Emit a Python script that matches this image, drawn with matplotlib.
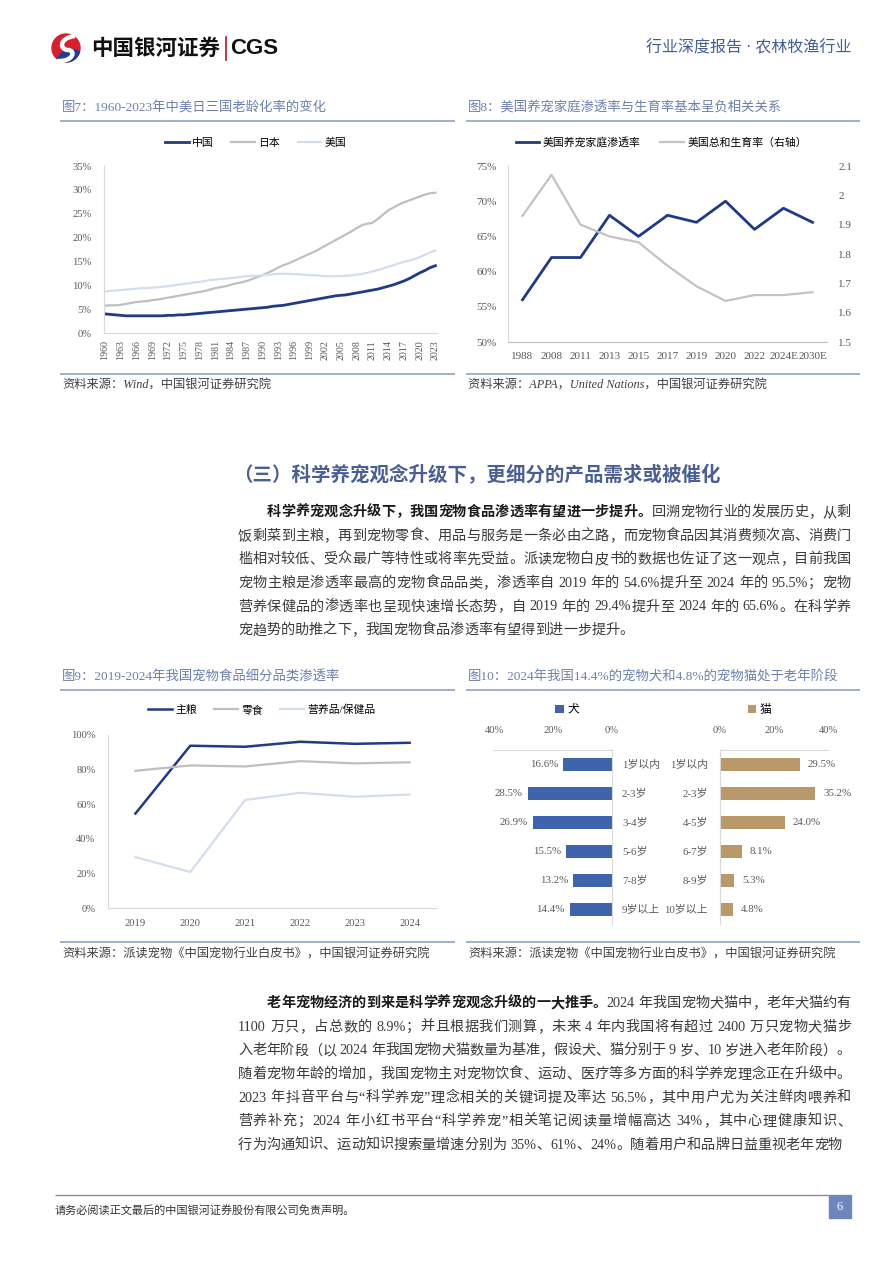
import matplotlib.pyplot as plt
import matplotlib.patches as mpatches
from matplotlib.path import Path
from matplotlib.font_manager import FontProperties
from matplotlib.ticker import FuncFormatter

W, H = 892, 1262
FONTS = ['Liberation Serif', 'Noto Sans CJK SC', 'DejaVu Sans']
plt.rcParams['font.family'] = FONTS
plt.rcParams['axes.unicode_minus'] = False

NAVY = '#1f3a86'
GREY = '#bfbfbf'
PALE = '#d4ddef'
TICK = '#595959'
TITLE = '#6c80b0'
RULE = '#8fa2c6'
DOG = '#3f63ad'
CAT = '#b9986a'

# ---- 图7 数据：65岁以上人口占比(%) ----
years7 = list(range(1960, 2024))
china7 = [4.0, 3.9, 3.8, 3.7, 3.6, 3.6, 3.6, 3.6, 3.6, 3.6,
          3.6, 3.6, 3.7, 3.7, 3.8, 3.8, 3.9, 4.0, 4.1, 4.2,
          4.3, 4.4, 4.5, 4.6, 4.7, 4.8, 4.9, 5.0, 5.1, 5.2,
          5.3, 5.4, 5.6, 5.7, 5.8, 6.0, 6.2, 6.4, 6.6, 6.8,
          7.0, 7.2, 7.4, 7.6, 7.8, 7.9, 8.0, 8.2, 8.4, 8.6,
          8.8, 9.0, 9.2, 9.5, 9.8, 10.1, 10.5, 10.9, 11.4, 12.0,
          12.6, 13.1, 13.7, 14.1]
japan7 = [5.7, 5.8, 5.8, 5.9, 6.1, 6.3, 6.5, 6.6, 6.7, 6.9,
          7.0, 7.2, 7.4, 7.6, 7.8, 8.0, 8.2, 8.4, 8.6, 8.8,
          9.1, 9.4, 9.6, 9.8, 10.1, 10.4, 10.6, 10.9, 11.3, 11.7,
          12.1, 12.6, 13.1, 13.7, 14.2, 14.6, 15.1, 15.6, 16.1, 16.6,
          17.1, 17.7, 18.3, 18.9, 19.5, 20.1, 20.7, 21.3, 22.0, 22.6,
          22.9, 23.1, 23.9, 24.8, 25.7, 26.3, 26.9, 27.4, 27.8, 28.2,
          28.6, 29.0, 29.3, 29.4]
usa7 = [8.7, 8.8, 8.9, 9.0, 9.1, 9.2, 9.3, 9.4, 9.4, 9.5,
        9.6, 9.7, 9.8, 10.0, 10.1, 10.3, 10.4, 10.6, 10.7, 10.9,
        11.1, 11.2, 11.3, 11.4, 11.5, 11.6, 11.8, 11.9, 12.0, 12.0,
        12.1, 12.2, 12.3, 12.4, 12.4, 12.4, 12.3, 12.3, 12.2, 12.1,
        12.1, 12.0, 11.9, 11.9, 11.9, 11.9, 12.0, 12.1, 12.2, 12.4,
        12.6, 12.9, 13.2, 13.5, 13.9, 14.2, 14.6, 14.9, 15.2, 15.5,
        15.9, 16.4, 16.9, 17.3]

# ---- 图8 数据 ----
cats8 = ['1988', '2008', '2011', '2013', '2015', '2017', '2019', '2020',
         '2022', '2024E', '2030E']
pet_rate = [56, 62, 62, 68, 65, 68, 67, 70, 66, 69, 67]
fertility = [1.93, 2.07, 1.90, 1.86, 1.84, 1.76, 1.69, 1.64, 1.66, 1.66, 1.67]

# ---- 图9 数据 ----
years9 = ['2019', '2020', '2021', '2022', '2023', '2024']
staple = [54.6, 93.8, 93.2, 96.1, 94.9, 95.5]
snack = [79.3, 82.4, 81.8, 84.9, 83.6, 84.2]
supplement = [29.4, 20.8, 62.4, 66.6, 64.3, 65.6]

# ---- 图10 数据 ----
dog_ages = ['1岁以内', '2-3岁', '3-4岁', '5-6岁', '7-8岁', '9岁以上']
dog_share = [16.6, 28.5, 26.9, 15.5, 13.2, 14.4]
cat_ages = ['1岁以内', '2-3岁', '4-5岁', '6-7岁', '8-9岁', '10岁以上']
cat_share = [29.5, 35.2, 24.0, 8.1, 5.3, 4.8]

para1 = [
    [('科学养宠观念升级下，我国宠物食品渗透率有望进一步提升。', True), ('回溯宠物行业的发展历史，从剩', False)],
    [('饭剩菜到主粮，再到宠物零食、用品与服务是一条必由之路，而宠物食品因其消费频次高、消费门', False)],
    [('槛相对较低、受众最广等特性或将率先受益。派读宠物白皮书的数据也佐证了这一观点，目前我国', False)],
    [('宠物主粮是渗透率最高的宠物食品品类，渗透率自 2019 年的 54.6%提升至 2024 年的 95.5%；宠物', False)],
    [('营养保健品的渗透率也呈现快速增长态势，自 2019 年的 29.4%提升至 2024 年的 65.6%。在科学养', False)],
    [('宠趋势的助推之下，我国宠物食品渗透率有望得到进一步提升。', False)],
]
para2 = [
    [('老年宠物经济的到来是科学养宠观念升级的一大推手。', True), ('2024 年我国宠物犬猫中，老年犬猫约有', False)],
    [('1100 万只，占总数的 8.9%；并且根据我们测算，未来 4 年内我国将有超过 2400 万只宠物犬猫步', False)],
    [('入老年阶段（以 2024 年我国宠物犬猫数量为基准，假设犬、猫分别于 9 岁、10 岁进入老年阶段）。', False)],
    [('随着宠物年龄的增加，我国宠物主对宠物饮食、运动、医疗等多方面的科学养宠理念正在升级中。', False)],
    [('2023 年抖音平台与“科学养宠”理念相关的关键词提及率达 56.5%，其中用户尤为关注鲜肉喂养和', False)],
    [('营养补充；2024 年小红书平台“科学养宠”相关笔记阅读量增幅高达 34%，其中心理健康知识、', False)],
    [('行为沟通知识、运动知识搜索量增速分别为 35%、61%、24%。随着用户和品牌日益重视老年宠物', False)],
]

fig = plt.figure(figsize=(W / 100, H / 100), dpi=100)
bg = fig.add_axes([0, 0, 1, 1])
bg.set_xlim(0, W)
bg.set_ylim(H, 0)
bg.axis('off')
renderer = fig.canvas.get_renderer()


def box(x0, y0, x1, y1):
    return fig.add_axes([x0 / W, 1 - y1 / H, (x1 - x0) / W, (y1 - y0) / H])


def put(x, y, s, **kw):
    kw.setdefault('va', 'center')
    return bg.text(x, y, s, **kw)


def rule(x0, x1, y, color=RULE, lw=1.2):
    bg.plot([x0, x1], [y, y], color=color, lw=lw, solid_capstyle='butt')


def frame(x0, x1, y_title, title, y_src, src):
    put(x0 + 2, y_title, title, color=TITLE, fontsize=9.6)
    rule(x0, x1, y_title + 13)
    rule(x0, x1, y_src - 12)
    put(x0 + 2, y_src, src, color='#404040', fontsize=8.8, style='italic')


def clean(ax, spines=('left', 'bottom'), color='#d9d9d9'):
    for k, s in ax.spines.items():
        s.set_visible(k in spines)
        s.set_color(color)
    ax.set_facecolor('none')
    ax.tick_params(length=0, colors=TICK, labelsize=7.6)


pct = FuncFormatter(lambda v, _: f'{v:.0f}%')
leg_kw = dict(frameon=False, fontsize=7.8, handlelength=2.2, handletextpad=0.3)

# ---- 页眉 ----
bg.add_patch(mpatches.Circle((66, 48), 14, color='#d7202b'))
bg.add_patch(mpatches.Wedge((66, 48), 14, 15, 130, color='#1d3f94'))
s_curve = Path([(75, 36), (58, 38), (60, 50), (68, 50), (76, 50), (74, 62), (57, 61)],
               [Path.MOVETO, Path.CURVE4, Path.CURVE4, Path.CURVE4, Path.CURVE4, Path.CURVE4, Path.CURVE4])
bg.add_patch(mpatches.PathPatch(s_curve, fill=False, edgecolor='white', lw=3.2))
put(91, 48, '中国银河证券', fontsize=15.5, weight='bold', color='#111111',
    family=['Noto Sans CJK SC'])
bg.plot([226, 226], [37, 60], color='#c0141c', lw=1.2)
put(230, 48, 'CGS', fontsize=16, weight='bold', color='#111111', family=['Liberation Sans'])
put(851, 48, '行业深度报告 · 农林牧渔行业', ha='right', fontsize=11.5, color='#3f5f9a')

# ---- 图7 ----
frame(60, 455, 108, '图7：1960-2023年中美日三国老龄化率的变化', 386, '资料来源：Wind，中国银河证券研究院')
ax7 = box(104, 166, 437, 333)
ax7.plot(years7, china7, color=NAVY, lw=2, label='中国')
ax7.plot(years7, japan7, color=GREY, lw=1.6, label='日本')
ax7.plot(years7, usa7, color=PALE, lw=1.6, label='美国')
ax7.set_xlim(1959.8, 2023.3)
ax7.set_ylim(0, 35)
ax7.set_yticks(range(0, 36, 5))
ax7.yaxis.set_major_formatter(pct)
ax7.set_xticks(years7[::3])
clean(ax7)
ax7.tick_params(axis='x', labelrotation=90, labelsize=7.2, pad=5)
ax7.tick_params(axis='y', pad=9)
ax7.legend(loc='center', bbox_to_anchor=(0.456, 1.14), ncol=3, columnspacing=1.6, **leg_kw)

# ---- 图8 ----
frame(466, 860, 108, '图8：美国养宠家庭渗透率与生育率基本呈负相关关系', 386,
      '资料来源：APPA，United Nations，中国银河证券研究院')
ax8 = box(508, 166, 827, 342)
x8 = list(range(len(cats8)))
l1, = ax8.plot(x8, pet_rate, color=NAVY, lw=2, label='美国养宠家庭渗透率')
ax8b = ax8.twinx()
l2, = ax8b.plot(x8, fertility, color='#c3c3c3', lw=1.6, label='美国总和生育率（右轴）')
ax8.set_xlim(-0.5, 10.5)
ax8.set_ylim(50, 75)
ax8.set_yticks(range(50, 76, 5))
ax8.yaxis.set_major_formatter(pct)
ax8b.set_ylim(1.5, 2.1)
ax8b.set_yticks([1.5, 1.6, 1.7, 1.8, 1.9, 2.0, 2.1])
ax8b.yaxis.set_major_formatter(FuncFormatter(lambda v, _: f'{round(v, 1):g}'))
ax8.set_xticks(x8, cats8)
clean(ax8)
ax8.spines['bottom'].set_color('#bfbfbf')
clean(ax8b, spines=())
ax8.tick_params(axis='x', labelsize=8, pad=7)
ax8.tick_params(axis='y', labelsize=8, pad=8)
ax8b.tick_params(axis='y', labelsize=8, pad=8)
ax8.legend(handles=[l1, l2], loc='center', bbox_to_anchor=(0.48, 1.135), ncol=2,
           columnspacing=1.8, **leg_kw)

# ---- 正文 ----
put(233, 475, '（三）科学养宠观念升级下，更细分的产品需求或被催化', fontsize=14, weight='bold',
    color='#4a5f94')


def text_line(x0, x1, y, parts, justify=True, size=10.2):
    items = []
    em = size * 100 / 72
    for s, bold in parts:
        prop = FontProperties(family=FONTS, size=size, weight='bold' if bold else 'normal')
        buf = ''
        toks = []
        for ch in s:
            if ch.isascii() and ch != ' ':
                buf += ch
            else:
                if buf:
                    toks.append(buf)
                    buf = ''
                toks.append(ch)
        if buf:
            toks.append(buf)
        for tk in toks:
            if tk == ' ':
                w = 0.25 * em
            else:
                w = renderer.get_text_width_height_descent(tk, prop, ismath=False)[0]
            items.append((tk, prop, w, bold))
    total = sum(it[2] for it in items)
    gap = (x1 - x0 - total) / (len(items) - 1) if justify else 0
    x = x0
    for tk, prop, w, bold in items:
        if tk != ' ':
            bg.text(x, y + 0.36 * em, tk, fontproperties=prop, va='baseline', ha='left',
                    color='#1a1a1a' if bold else '#3a3a3a')
        x += w + gap


def paragraph(lines, y0, step=23.6):
    for i, parts in enumerate(lines):
        x0 = 267 if i == 0 else 238
        text_line(x0, 851, y0 + i * step, parts, justify=i < len(lines) - 1)


paragraph(para1, 511)
paragraph(para2, 1002)

# ---- 图9 ----
frame(60, 455, 677, '图9：2019-2024年我国宠物食品细分品类渗透率', 954,
      '资料来源：派读宠物《中国宠物行业白皮书》，中国银河证券研究院')
ax9 = box(108, 735, 437, 908)
x9 = list(range(len(years9)))
ax9.plot(x9, staple, color=NAVY, lw=1.8, label='主粮')
ax9.plot(x9, snack, color=GREY, lw=1.6, label='零食')
ax9.plot(x9, supplement, color=PALE, lw=1.6, label='营养品/保健品')
ax9.set_xlim(-0.5, 5.5)
ax9.set_ylim(0, 100)
ax9.set_yticks(range(0, 101, 20))
ax9.yaxis.set_major_formatter(pct)
ax9.set_xticks(x9, years9)
clean(ax9)
ax9.tick_params(axis='x', pad=8)
ax9.tick_params(axis='y', pad=9)
ax9.legend(loc='center', bbox_to_anchor=(0.468, 1.145), ncol=3, columnspacing=1.6, **leg_kw)

# ---- 图10 ----
frame(466, 860, 677, '图10：2024年我国14.4%的宠物犬和4.8%的宠物猫处于老年阶段', 954,
      '资料来源：派读宠物《中国宠物行业白皮书》，中国银河证券研究院')
axd = box(494, 750, 612, 924)
axc = box(720, 750, 828, 924)
yd = list(range(len(dog_ages)))
axd.barh(yd, dog_share, height=0.42, color=DOG, label='犬')
axc.barh(yd, cat_share, height=0.42, color=CAT, label='猫')
axd.set_xlim(40, 0)
axc.set_xlim(0, 40)
for ax in (axd, axc):
    ax.set_ylim(5.5, -0.5)
    ax.set_yticks([])
    ax.set_xticks([0, 20, 40])
    ax.xaxis.set_major_formatter(pct)
    ax.xaxis.tick_top()
clean(axd, spines=('top', 'right'))
clean(axc, spines=('top', 'left'))
axd.tick_params(axis='x', pad=11)
axc.tick_params(axis='x', pad=11)
for i, (v, lab) in enumerate(zip(dog_share, dog_ages)):
    axd.annotate(f'{v:.1f}%', (v, i), xytext=(-3.6, 0), textcoords='offset points',
                 ha='right', va='center', fontsize=7.8, color=TICK)
    axd.annotate(lab, (0, i), xytext=(7.2, 0), textcoords='offset points',
                 ha='left', va='center', fontsize=7.8, color=TICK, annotation_clip=False)
for i, (v, lab) in enumerate(zip(cat_share, cat_ages)):
    axc.annotate(f'{v:.1f}%', (v, i), xytext=(5.8, 0), textcoords='offset points',
                 ha='left', va='center', fontsize=7.8, color=TICK, annotation_clip=False)
    axc.annotate(lab, (0, i), xytext=(-8.6, 0), textcoords='offset points',
                 ha='right', va='center', fontsize=7.8, color=TICK, annotation_clip=False)
axd.legend(loc='center', bbox_to_anchor=(0.62, 1.23), frameon=False, fontsize=8.5,
           handlelength=0.7, handleheight=0.7, handletextpad=0.3)
axc.legend(loc='center', bbox_to_anchor=(0.37, 1.23), frameon=False, fontsize=8.5,
           handlelength=0.7, handleheight=0.7, handletextpad=0.3)

# ---- 页脚 ----
rule(55, 829, 1195, color='#8c8c8c', lw=1)
put(55, 1211, '请务必阅读正文最后的中国银河证券股份有限公司免责声明。', fontsize=8, color='#333333')
bg.add_patch(mpatches.Rectangle((829, 1195), 22, 23, color='#6f86bb'))
put(840, 1207, '6', ha='center', fontsize=9, color='white')

fig.savefig('out.png', dpi=100)
